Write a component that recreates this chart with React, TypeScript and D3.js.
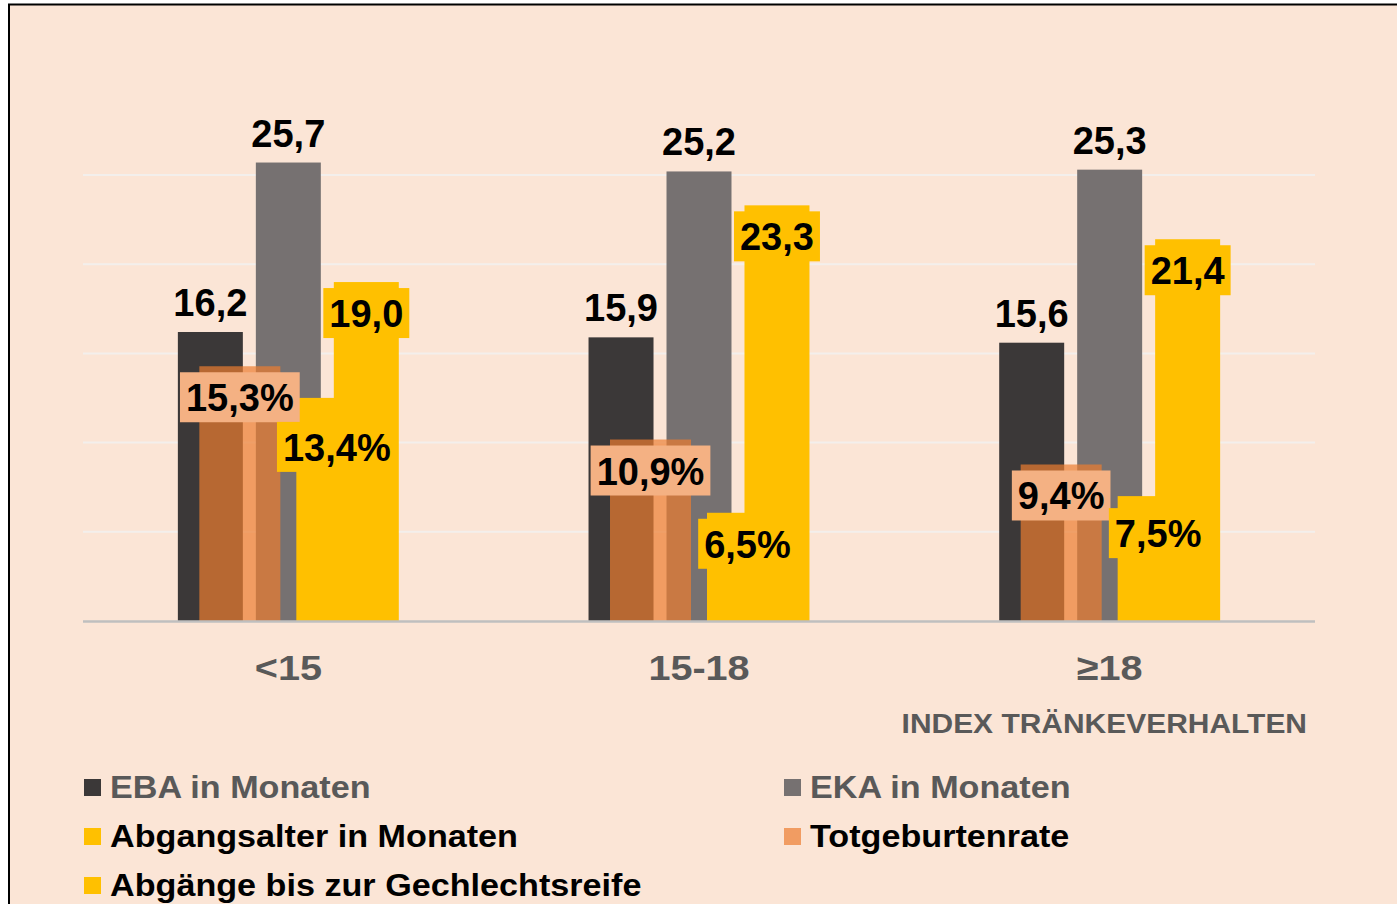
import React, { useEffect, useRef } from 'react';
import * as d3 from 'd3';

// ---- data ----
const categories = ['<15', '15-18', '≥18'];
const ebaMonths = [16.2, 15.9, 15.6];
const ekaMonths = [25.7, 25.2, 25.3];
const abgangsalterMonths = [19.0, 23.3, 21.4];
const totgeburtenrate = [15.3, 10.9, 9.4];
const abgaengeGeschlechtsreife = [13.4, 6.5, 7.5];
const primaryTicks = [5, 10, 15, 20, 25];
const seriesNames = [
  'EBA in Monaten',
  'EKA in Monaten',
  'Abgangsalter in Monaten',
  'Totgeburtenrate',
  'Abgänge bis zur Gechlechtsreife',
];
const axisTitle = 'INDEX TRÄNKEVERHALTEN';
// manual label nudges (px) as in the original chart
const abgaengeLabelShift = [18, 0, 6];

const W = 1397;
const H = 904;
const FONT = '"Liberation Sans", Arial, Helvetica, sans-serif';

const fmt = (v: number) => d3.format('.1f')(v).replace('.', ',');

export default function App() {
  const ref = useRef<SVGSVGElement>(null);

  useEffect(() => {
    const svg = d3.select(ref.current);
    svg.selectAll('*').remove();

    svg.append('rect').attr('width', W).attr('height', H).attr('fill', '#ffffff');
    svg
      .append('rect')
      .attr('x', 9)
      .attr('y', 4.5)
      .attr('width', W + 40)
      .attr('height', H + 40)
      .attr('fill', '#FBE5D6')
      .attr('stroke', '#000')
      .attr('stroke-width', 2);

    const x = d3.scaleBand<string>().domain(categories).range([83, 1315]);
    const bw = x.bandwidth();
    const yP = d3.scaleLinear().domain([0, 28]).range([621, 121.5]);
    const yS = d3.scaleLinear().domain([0, 30]).range([621, 121.5]);
    const xP = d3
      .scaleBand<number>()
      .domain([0, 1, 2])
      .range([-0.269 * bw, 0.269 * bw])
      .paddingInner(13 / 78);
    const xS = d3
      .scaleBand<number>()
      .domain([0, 1])
      .range([-0.2167 * bw, 0.2167 * bw])
      .paddingInner(16 / 97);
    const gc = (c: string) => (x(c) as number) + bw / 2;

    // gridlines
    svg
      .append('g')
      .selectAll('line')
      .data(primaryTicks)
      .join('line')
      .attr('x1', 83)
      .attr('x2', 1315)
      .attr('y1', (d) => yP(d))
      .attr('y2', (d) => yP(d))
      .attr('stroke', '#F3EFEC')
      .attr('stroke-width', 2);

    const primary = [
      { values: ebaMonths, color: '#3B3838' },
      { values: ekaMonths, color: '#767171' },
      { values: abgangsalterMonths, color: '#FFC000' },
    ];
    const secondary = [
      { values: totgeburtenrate, color: '#ED7D31', opacity: 0.7 },
      { values: abgaengeGeschlechtsreife, color: '#FFC000', opacity: 1 },
    ];

    primary.forEach((s, si) => {
      svg
        .append('g')
        .selectAll('rect')
        .data(s.values)
        .join('rect')
        .attr('x', (d, i) => gc(categories[i]) + (xP(si) as number))
        .attr('width', xP.bandwidth())
        .attr('y', (d) => yP(d))
        .attr('height', (d) => yP(0) - yP(d))
        .attr('fill', s.color);
    });
    secondary.forEach((s, si) => {
      svg
        .append('g')
        .selectAll('rect')
        .data(s.values)
        .join('rect')
        .attr('x', (d, i) => gc(categories[i]) + (xS(si) as number))
        .attr('width', xS.bandwidth())
        .attr('y', (d) => yS(d))
        .attr('height', (d) => yS(0) - yS(d))
        .attr('fill', s.color)
        .attr('fill-opacity', s.opacity);
    });

    // axis line
    svg
      .append('line')
      .attr('x1', 83)
      .attr('x2', 1315)
      .attr('y1', 621.5)
      .attr('y2', 621.5)
      .attr('stroke', '#BFBFBF')
      .attr('stroke-width', 2.5);

    const labelFont = 38;
    // labels above bars (EBA, EKA)
    [0, 1].forEach((si) => {
      primary[si].values.forEach((v, i) => {
        const cx = gc(categories[i]) + (xP(si) as number) + xP.bandwidth() / 2;
        svg
          .append('text')
          .attr('x', cx)
          .attr('y', yP(v) - 16)
          .attr('text-anchor', 'middle')
          .attr('font-family', FONT)
          .attr('font-weight', 'bold')
          .attr('font-size', labelFont)
          .attr('fill', '#000')
          .text(fmt(v));
      });
    });

    const boxLabel = (cx: number, top: number, txt: string, fill: string) => {
      const g = svg.append('g');
      const rect = g.append('rect');
      const t = g
        .append('text')
        .attr('x', cx)
        .attr('y', top + 39)
        .attr('text-anchor', 'middle')
        .attr('font-family', FONT)
        .attr('font-weight', 'bold')
        .attr('font-size', labelFont)
        .attr('fill', '#000')
        .text(txt);
      const w = (t.node() as SVGTextElement).getComputedTextLength();
      rect
        .attr('x', cx - w / 2 - 6)
        .attr('y', top)
        .attr('width', w + 12)
        .attr('height', 50)
        .attr('fill', fill);
    };

    abgangsalterMonths.forEach((v, i) => {
      const cx = gc(categories[i]) + (xP(2) as number) + xP.bandwidth() / 2;
      boxLabel(cx, yP(v) + 6, fmt(v), '#FFC000');
    });
    totgeburtenrate.forEach((v, i) => {
      const cx = gc(categories[i]) + (xS(0) as number) + xS.bandwidth() / 2;
      boxLabel(cx, yS(v) + 6, fmt(v) + '%', '#F4B183');
    });
    abgaengeGeschlechtsreife.forEach((v, i) => {
      const cx = gc(categories[i]) + (xS(1) as number) + xS.bandwidth() / 2;
      boxLabel(cx, yS(v) + 6 + abgaengeLabelShift[i], fmt(v) + '%', '#FFC000');
    });

    // category labels
    categories.forEach((c) => {
      svg
        .append('text')
        .attr('transform', `translate(${gc(c)},680) scale(1.1,1)`)
        .attr('text-anchor', 'middle')
        .attr('font-family', FONT)
        .attr('font-weight', 'bold')
        .attr('font-size', 36)
        .attr('fill', '#595959')
        .text(c);
    });

    // axis title
    svg
      .append('text')
      .attr('transform', `translate(1307,733) scale(1.07,1)`)
      .attr('text-anchor', 'end')
      .attr('font-family', FONT)
      .attr('font-weight', 'bold')
      .attr('font-size', 28)
      .attr('fill', '#595959')
      .text(axisTitle);

    // legend
    const legendItems = [
      { name: seriesNames[0], color: '#3B3838', op: 1, tc: '#595959' },
      { name: seriesNames[1], color: '#767171', op: 1, tc: '#595959' },
      { name: seriesNames[2], color: '#FFC000', op: 1, tc: '#000' },
      { name: seriesNames[3], color: '#ED7D31', op: 0.7, tc: '#000' },
      { name: seriesNames[4], color: '#FFC000', op: 1, tc: '#000' },
    ];
    const colX = [84, 784];
    const rowY = [798, 847, 896];
    legendItems.forEach((it, i) => {
      const lx = colX[i % 2];
      const ly = rowY[Math.floor(i / 2)];
      svg
        .append('rect')
        .attr('x', lx)
        .attr('y', ly - 19)
        .attr('width', 17)
        .attr('height', 17)
        .attr('fill', it.color)
        .attr('fill-opacity', it.op);
      svg
        .append('text')
        .attr('transform', `translate(${lx + 26},${ly}) scale(1.12,1)`)
        .attr('font-family', FONT)
        .attr('font-weight', 'bold')
        .attr('font-size', 30.5)
        .attr('fill', it.tc)
        .text(it.name);
    });
  }, []);

  return (
    <svg
      ref={ref}
      width={W}
      height={H}
      style={{ position: 'absolute', left: 0, top: 0, display: 'block' }}
    />
  );
}
